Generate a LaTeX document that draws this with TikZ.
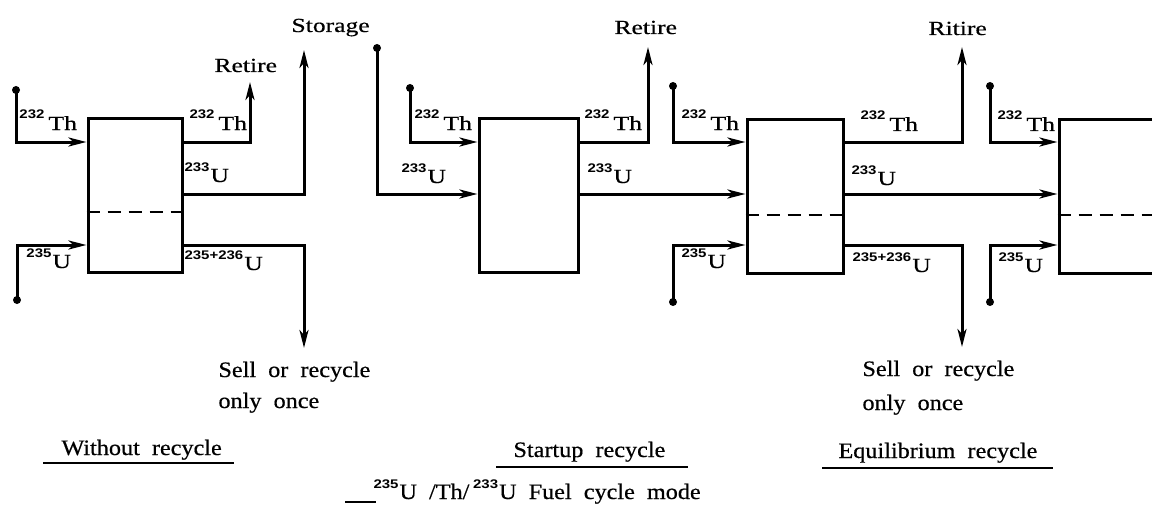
\documentclass[tikz,border=0pt]{standalone}
\usepackage{fontspec}
\setmainfont{Liberation Serif}
\newfontfamily\wide[FakeStretch=1.28,FakeBold=0.5]{Liberation Serif}
\newfontfamily\nar[FakeStretch=1.1,WordSpace=2,FakeBold=0.5]{Liberation Serif}
\newfontfamily\supf[FakeStretch=1.2]{Liberation Sans}
\usetikzlibrary{arrows.meta}
\newcommand\iso[2]{\raisebox{12pt}{\fontsize{12.5pt}{13pt}\supf\bfseries #1}\hspace{4pt}#2}
\newcommand\isob[2]{\raisebox{11pt}{\fontsize{12.5pt}{13pt}\supf\bfseries #1}\hspace{1pt}#2}
\begin{document}
\begin{tikzpicture}[x=1pt,y=-1pt,line width=3pt,
  box/.style={draw,rectangle,inner sep=0pt,line width=3pt},
  dot/.style={circle,fill,inner sep=0pt,minimum size=8pt},
  arr/.style={-{Stealth[length=18pt,width=9pt,inset=5pt]}},
  dline/.style={line width=2.4pt,dash pattern=on 13pt off 8pt},
  lab/.style={anchor=base west,inner sep=0pt,font=\fontsize{20pt}{22pt}\wide},
  bot/.style={anchor=base west,inner sep=0pt,font=\fontsize{22pt}{26pt}\nar},
  uline/.style={line width=2.6pt}]
\useasboundingbox (0,0) rectangle (1152,511);
% rows
\coordinate (rTh) at (0,142);
\coordinate (rU) at (0,194);
\coordinate (rL) at (0,245);
\coordinate (rD1) at (0,212);
\coordinate (rD) at (0,215);
% boxes
\node[box,minimum width=94pt,minimum height=154pt] (b1) at (135,195) {};
\node[box,minimum width=99pt,minimum height=154pt] (b2) at (528.5,195) {};
\node[box,minimum width=96pt,minimum height=154pt] (b3) at (795,196) {};
\node[box,minimum width=120pt,minimum height=154pt] (b4) at (1119,196) {};
\draw[dline] (b1.west |- rD1) -- (b1.east |- rD1);
\draw[dline] (b3.west |- rD) -- (b3.east |- rD);
\draw[dline] (b4.west |- rD) -- (b4.east |- rD);
% dots
\node[dot] (d1a) at (16,90) {};
\node[dot] (d1b) at (17,300) {};
\node[dot] (d2s) at (377,48) {};
\node[dot] (d2a) at (410,88) {};
\node[dot] (d3a) at (673,86) {};
\node[dot] (d3b) at (673,302) {};
\node[dot] (d4a) at (990,86) {};
\node[dot] (d4b) at (990,302) {};
% free ends
\coordinate (t1) at (250,82);
\coordinate (s1) at (304,50);
\coordinate (o1) at (304,348);
\coordinate (t2) at (648,47);
\coordinate (t3) at (962,47);
\coordinate (o3) at (962,347);
% box 1
\draw[arr] (d1a.center) |- (b1.west |- rTh);
\draw[arr] (d1b.center) |- (b1.west |- rL);
\draw[arr] (b1.east |- rTh) -| (t1);
\draw[arr] (b1.east |- rU) -| (s1);
\draw[arr] (b1.east |- rL) -| (o1);
% box 2
\draw[arr] (d2s.center) |- (b2.west |- rU);
\draw[arr] (d2a.center) |- (b2.west |- rTh);
\draw[arr] (b2.east |- rTh) -| (t2);
\draw[arr] (b2.east |- rU) -- (b3.west |- rU);
% box 3
\draw[arr] (d3a.center) |- (b3.west |- rTh);
\draw[arr] (d3b.center) |- (b3.west |- rL);
\draw[arr] (b3.east |- rTh) -| (t3);
\draw[arr] (b3.east |- rU) -- (b4.west |- rU);
\draw[arr] (b3.east |- rL) -| (o3);
% box 4
\draw[arr] (d4a.center) |- (b4.west |- rTh);
\draw[arr] (d4b.center) |- (b4.west |- rL);
% labels box 1
\node[lab] (l1a) at (18,130) {\iso{232}{Th}};
\node[lab] (l1b) at (25,268) {\isob{235}{U}};
\node[lab] (l1c) at (188,130) {\iso{232}{Th}};
\node[lab] (l1d) at (183,182) {\isob{233}{U}};
\node[lab] (l1e) at (183,270) {\isob{235+236}{U}};
\node[lab] (ret1) at (213,72) {Retire};
\node[lab] (sto) at (290,32) {Storage};
% labels box 2
\node[lab] (l2a) at (413,130) {\iso{232}{Th}};
\node[lab] (l2b) at (400,183) {\isob{233}{U}};
\node[lab] (l2c) at (583,130) {\iso{232}{Th}};
\node[lab] (l2d) at (586,183) {\isob{233}{U}};
\node[lab] (ret2) at (613,34) {Retire};
% labels box 3
\node[lab] (l3a) at (680,130) {\iso{232}{Th}};
\node[lab] (l3b) at (680,268) {\isob{235}{U}};
\node[lab] (l3c) at (859,131) {\iso{232}{Th}};
\node[lab] (l3d) at (850,185) {\isob{233}{U}};
\node[lab] (l3e) at (851,272) {\isob{235+236}{U}};
\node[lab] (ret3) at (927,35) {Ritire};
% labels box 4
\node[lab] (l4a) at (996,131) {\iso{232}{Th}};
\node[lab] (l4b) at (997,272) {\isob{235}{U}};
% bottom texts
\node[bot] (sell1) at (217,377) {Sell or recycle};
\node[bot] (once1) at (217,408) {only once};
\node[bot] (sell3) at (861,376) {Sell or recycle};
\node[bot] (once3) at (861,410) {only once};
\node[bot] (m1) at (60,455) {Without recycle};
\node[bot] (m2) at (512,457) {Startup recycle};
\node[bot] (m3) at (837,458) {Equilibrium recycle};
\draw[uline] (43,463) -- (234,463);
\draw[uline] (496,467) -- (688,467);
\draw[uline] (822,468) -- (1053,468);
\node[bot] (fuel) at (372,499) {\isob{235}{U} /Th/\,\isob{233}{U} Fuel cycle mode};
\draw[uline] (345,502) -- (376,502);
\end{tikzpicture}
\end{document}
